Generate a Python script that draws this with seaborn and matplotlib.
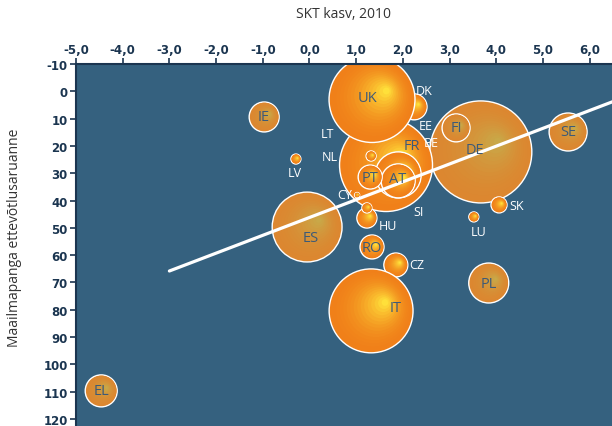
import numpy as np
import pandas as pd
import matplotlib
matplotlib.use("Agg")
import matplotlib.pyplot as plt
import seaborn as sns
from matplotlib.colors import to_rgb

# ---------------- data ----------------
countries   = ["BE", "EE", "DK", "DE", "FI", "SE", "FR", "UK", "NL", "AT", "PT", "LT", "CY",
               "HU", "SI", "LV", "IE", "ES", "RO", "CZ", "IT", "PL", "SK", "LU", "EL"]
gdp_growth  = [2.1, 3.1, 2.24, 3.67, 3.14, 5.54, 1.64, 1.34, 1.90, 1.90, 1.30, 1.32, 1.02,
               1.23, 1.23, -0.29, -0.97, -0.05, 1.34, 1.85, 1.32, 3.84, 4.06, 3.52, -4.46]
db_rank     = [27, 17, 5.7, 22.2, 13.4, 14.9, 27.0, 3.0, 30.6, 32.8, 31.4, 23.7, 38.0,
               46.4, 42.7, 24.8, 9.4, 49.7, 57.0, 63.6, 80.4, 70.2, 41.6, 46.0, 109.7]
bubble_size = [334, 15, 156, 2410, 181, 334, 2000, 1710, 490, 268, 133, 23, 6,
               93, 23, 23, 208, 1130, 133, 133, 1630, 370, 59, 23, 237]
group       = ["A", "A", "A", "B", "B", "B", "A", "A", "A", "A", "A", "A", "A",
               "A", "A", "A", "B", "B", "A", "A", "A", "B", "A", "A", "B"]
inside_label = ["n", "n", "n", "y", "y", "y", "y", "y", "n", "y", "y", "n", "n",
                "n", "n", "n", "y", "y", "y", "n", "y", "y", "n", "n", "y"]

trend_x = [-3.0, 7.0]
trend_y = [65.8, 0.5]

x_ticks = [-5, -4, -3, -2, -1, 0, 1, 2, 3, 4, 5, 6]
x_tick_labels = ["-5,0", "-4,0", "-3,0", "-2,0", "-1,0", "0,0", "1,0", "2,0", "3,0", "4,0", "5,0", "6,0"]
y_ticks = [-10, 0, 10, 20, 30, 40, 50, 60, 70, 80, 90, 100, 110, 120]
y_tick_labels = ["-10", "0", "10", "20", "30", "40", "50", "60", "70", "80", "90", "100", "110", "120"]

title_text = "SKT kasv, 2010"
ylabel_text = "Maailmapanga ettevõtlusaruanne"

# label offsets in screen pixels (right, down) relative to bubble centre
label_offset = {"UK": (-5, -2), "DK": (10, -16), "EE": (-28, -12), "BE": (24, -23),
                "FR": (26, -20), "LT": (-44, -23), "NL": (-68, -18), "LV": (-1, 13),
                "AT": (-1, -2), "CY": (-12, -1), "SI": (52, 4), "HU": (21, 7),
                "RO": (0, 1), "CZ": (21, 0), "IT": (25, -3), "DE": (-6, -2),
                "SK": (18, 1), "LU": (5, 15), "ES": (4, 10)}

# ---------------- style ----------------
sns.set_theme(style="white")
plt.rcParams["font.family"] = ["DejaVu Sans"]

BG = "#35617f"
NAVY = "#1b3550"
fig = plt.figure(figsize=(6.12, 4.27), dpi=100)
ax = fig.add_axes([76 / 612, 0, 536 / 612, 362 / 427])
ax.set_facecolor(BG)
ax.set_xlim(-5, 6.48)
ax.set_ylim(122.56, -10)

VMAX = 2410.0
SMAX = 2.2395 * VMAX
N = 16
grad = {"A": (to_rgb("#f08019"), to_rgb("#ffe03a"), 2.0),
        "B": (to_rgb("#dc8730"), to_rgb("#c9a848"), 1.8)}

inv = ax.transData.inverted()
for i, c in enumerate(countries):
    x0, y0, v, g = gdp_growth[i], db_rank[i], bubble_size[i], group[i]
    r_px = np.sqrt(1.08 * v)
    disp = ax.transData.transform((x0, y0))
    xs, ys, vals, cols, lws = [], [], [], [], []
    c0, c1, ex = grad[g]
    for j in range(N):
        f = 0.92 * j / (N - 1)
        off = f * 0.36 * r_px
        px, py = inv.transform((disp[0] + off, disp[1] + 0.6 * off))
        xs.append(px)
        ys.append(py)
        vals.append(v * (1 - f) ** 2)
        t = (j / (N - 1)) ** ex
        cols.append(tuple(c0[k] * (1 - t) + c1[k] * t for k in range(3)))
        lws.append(1.0 if j == 0 else 0.0)
    df = pd.DataFrame({"x": xs, "y": ys, "val": vals, "layer": [str(j) for j in range(N)]})
    sns.scatterplot(data=df, x="x", y="y", size="val", sizes=(0, SMAX), size_norm=(0, VMAX),
                    hue="layer", hue_order=[str(j) for j in range(N)], palette=cols,
                    edgecolor="white", linewidth=lws, legend=False, ax=ax,
                    zorder=2 + i * 0.01)

sns.lineplot(x=trend_x, y=trend_y, color="white", linewidth=2.3, ax=ax, zorder=4)

for i, c in enumerate(countries):
    dx, dy = label_offset.get(c, (0, 0))
    inside = inside_label[i] == "y"
    ax.annotate(c, (gdp_growth[i], db_rank[i]), xytext=(dx, -dy), textcoords="offset pixels",
                ha="center", va="center", fontsize=10.5 if inside else 9,
                color="#3d5a78" if inside else "white",
                family=["Open Sans", "DejaVu Sans"], zorder=6, annotation_clip=False)

ax.set_xlabel("")
ax.set_ylabel("")
ax.xaxis.tick_top()
ax.set_xticks(x_ticks)
ax.set_xticklabels(x_tick_labels, fontweight="bold", fontsize=8.5, color=NAVY)
ax.set_yticks(y_ticks)
ax.set_yticklabels(y_tick_labels, fontweight="bold", fontsize=8.5, color=NAVY)
ax.tick_params(axis="both", direction="out", length=4, width=1.2, color=NAVY, pad=2)
ax.tick_params(axis="x", top=True, bottom=False, labeltop=True, labelbottom=False)
ax.tick_params(axis="y", left=True)
for s in ["right", "bottom"]:
    ax.spines[s].set_visible(False)
for s in ["left", "top"]:
    ax.spines[s].set_color(NAVY)
    ax.spines[s].set_linewidth(1.5)

fig.text(343 / 612, 1 - 15 / 427, title_text, ha="center", va="center", fontsize=10,
         color="#333333", family=["Open Sans", "DejaVu Sans"])
fig.text(15 / 612, 1 - 238 / 427, ylabel_text, ha="center", va="center", rotation=90,
         fontsize=10, color="#333333", family=["Open Sans", "DejaVu Sans"])

fig.savefig("out.png", dpi=100)
